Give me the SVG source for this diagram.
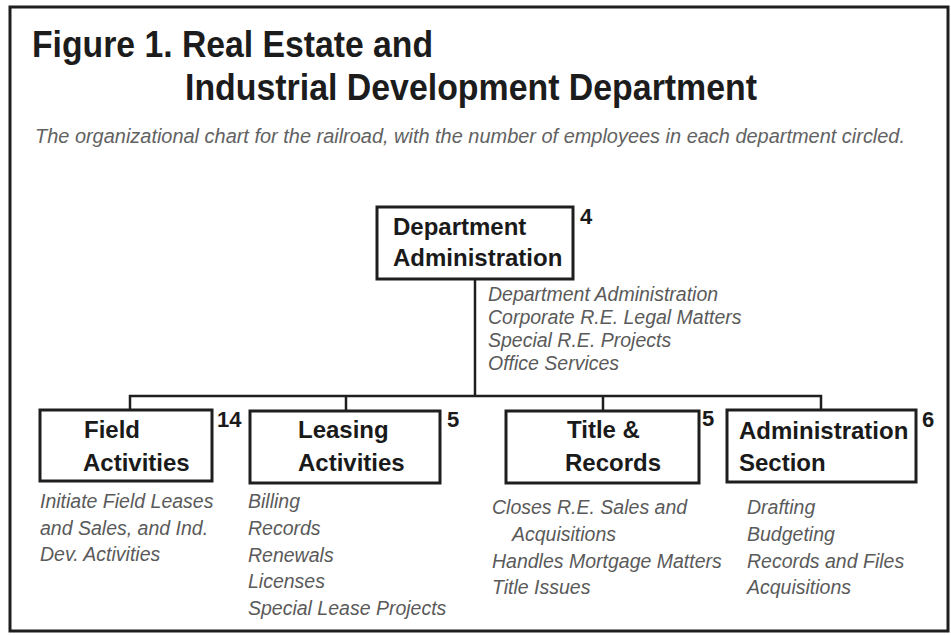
<svg xmlns="http://www.w3.org/2000/svg" width="951" height="635" viewBox="0 0 951 635">
  <style>
    .frame { fill: #ffffff; stroke: #1e1e1e; stroke-width: 3; }
    .box { fill: #ffffff; stroke: #1e1e1e; stroke-width: 3; }
    .wire { fill: none; stroke: #1e1e1e; stroke-width: 2.5; }
    .title { font-family: "Liberation Sans", Arial, sans-serif; font-weight: bold; font-size: 37.5px; fill: #1c1c1c; }
    .sub { font-family: "Liberation Sans", Arial, sans-serif; font-style: italic; font-size: 20px; fill: #626262; }
    .name { font-family: "Liberation Sans", Arial, sans-serif; font-weight: bold; font-size: 24px; fill: #1a1a1a; }
    .count { font-family: "Liberation Sans", Arial, sans-serif; font-weight: bold; font-size: 22px; fill: #1a1a1a; }
    .desc { font-family: "Liberation Sans", Arial, sans-serif; font-style: italic; font-size: 19.5px; fill: #5a5a5a; }
  </style>

  <rect width="951" height="635" fill="#ffffff"/>
  <rect class="frame" x="10" y="7" width="938" height="624"/>

  <g id="heading">
    <text class="title" x="32" y="57" textLength="401" lengthAdjust="spacingAndGlyphs">Figure 1. Real Estate and</text>
    <text class="title" x="185" y="100" textLength="572" lengthAdjust="spacingAndGlyphs">Industrial Development Department</text>
    <text class="sub" x="35" y="143" textLength="870" lengthAdjust="spacingAndGlyphs">The organizational chart for the railroad, with the number of employees in each department circled.</text>
  </g>

  <g id="connectors">
    <path class="wire" d="M475 279 V396"/>
    <path class="wire" d="M130 410 V396 H821 V410"/>
    <path class="wire" d="M346 396 V411"/>
    <path class="wire" d="M603 396 V411"/>
  </g>

  <g id="dept-admin">
    <rect class="box" x="377" y="207" width="196" height="72"/>
    <text class="name" x="393" y="235">Department</text>
    <text class="name" x="393" y="266">Administration</text>
    <text class="count" x="580" y="224">4</text>
    <text class="desc" x="488" y="301">Department Administration</text>
    <text class="desc" x="488" y="324">Corporate R.E. Legal Matters</text>
    <text class="desc" x="488" y="347">Special R.E. Projects</text>
    <text class="desc" x="488" y="370">Office Services</text>
  </g>

  <g id="field-activities">
    <rect class="box" x="40" y="410" width="172" height="71"/>
    <text class="name" x="84" y="438">Field</text>
    <text class="name" x="83" y="471">Activities</text>
    <text class="count" x="217" y="427">14</text>
    <text class="desc" x="40" y="508">Initiate Field Leases</text>
    <text class="desc" x="40" y="534.5">and Sales, and Ind.</text>
    <text class="desc" x="40" y="561">Dev. Activities</text>
  </g>

  <g id="leasing-activities">
    <rect class="box" x="250" y="411" width="190" height="72"/>
    <text class="name" x="298" y="438">Leasing</text>
    <text class="name" x="298" y="471">Activities</text>
    <text class="count" x="447" y="427">5</text>
    <text class="desc" x="248" y="508">Billing</text>
    <text class="desc" x="248" y="535">Records</text>
    <text class="desc" x="248" y="561.5">Renewals</text>
    <text class="desc" x="248" y="588">Licenses</text>
    <text class="desc" x="248" y="615">Special Lease Projects</text>
  </g>

  <g id="title-records">
    <rect class="box" x="506" y="411" width="193" height="72"/>
    <text class="name" x="567" y="438">Title &amp;</text>
    <text class="name" x="565" y="471">Records</text>
    <text class="count" x="702" y="426">5</text>
    <text class="desc" x="492" y="514">Closes R.E. Sales and</text>
    <text class="desc" x="512" y="541">Acquisitions</text>
    <text class="desc" x="492" y="567.5">Handles Mortgage Matters</text>
    <text class="desc" x="492" y="594">Title Issues</text>
  </g>

  <g id="admin-section">
    <rect class="box" x="727" y="410" width="189" height="72"/>
    <text class="name" x="739" y="439" fill="#000">Administration</text>
    <text class="name" x="739" y="471">Section</text>
    <text class="count" x="922" y="427">6</text>
    <text class="desc" x="747" y="514">Drafting</text>
    <text class="desc" x="747" y="541">Budgeting</text>
    <text class="desc" x="747" y="567.5">Records and Files</text>
    <text class="desc" x="747" y="594">Acquisitions</text>
  </g>
</svg>
